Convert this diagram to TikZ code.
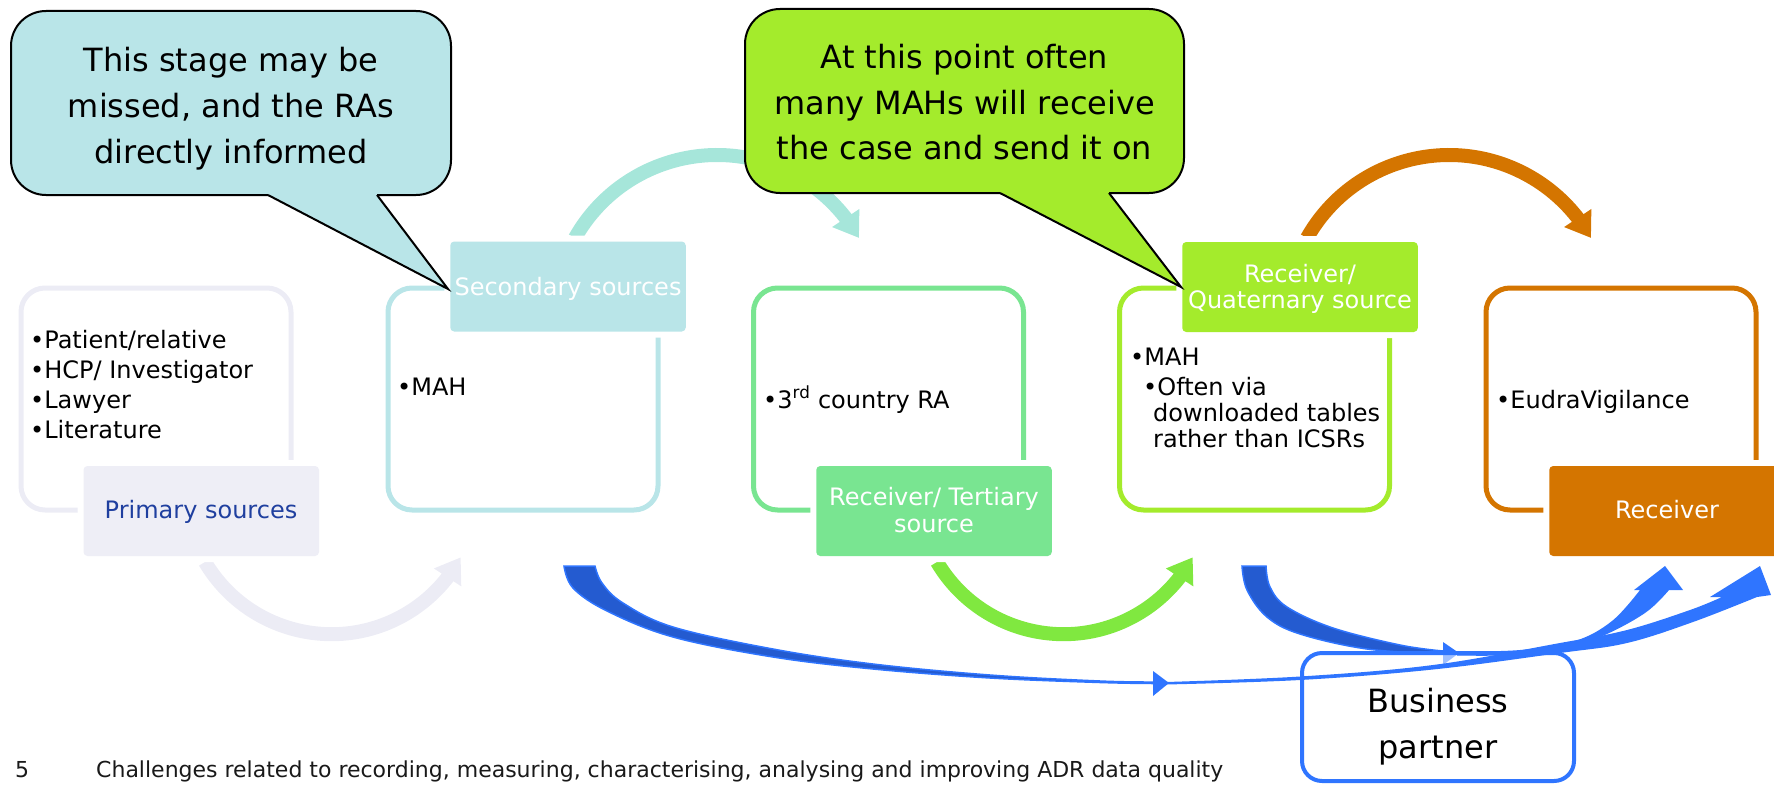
\documentclass[tikz,border=0pt]{standalone}
\usepackage{fontspec}
\setmainfont{DejaVu Sans}
\usetikzlibrary{arrows.meta,bending}
\definecolor{lavF}{HTML}{EEEEF6}
\definecolor{lavO}{HTML}{ECECF5}
\definecolor{cyanF}{HTML}{B9E5E8}
\definecolor{tealA}{HTML}{A6E6DA}
\definecolor{greenF}{HTML}{79E591}
\definecolor{greenA}{HTML}{80E840}
\definecolor{limeF}{HTML}{A4EB2C}
\definecolor{orangeF}{HTML}{D47500}
\definecolor{blueL}{HTML}{2F75FF}
\definecolor{blueD}{HTML}{245BD0}
\definecolor{ptBlue}{HTML}{1F3F9F}
\newcommand{\mylines}[2]{\begin{tabular}[t]{@{}#1@{}}#2\end{tabular}}
\begin{document}
\begin{tikzpicture}[x=1pt,y=-1pt,
  outl/.style={rectangle, line width=5pt, rounded corners=24pt, minimum width=270pt, minimum height=222pt, inner sep=0pt},
  lblbox/.style={rectangle, rounded corners=4pt, minimum width=235.5pt, minimum height=90pt, inner sep=0pt, preaction={draw=white, line width=12pt}},
  ltext/.style={anchor=base, inner sep=0pt, text=white, font=\fontsize{24}{27}\selectfont},
  btext/.style={anchor=base west, inner sep=0pt, font=\fontsize{24}{30}\selectfont},
  arcarrow/.style={line width=14pt, -{Triangle[length=24pt,width=31pt]}},
  callbox/.style={rectangle, draw=black, line width=2pt, rounded corners=35pt, inner sep=0pt},
  ctext/.style={anchor=base, inner sep=0pt, font=\fontsize{32}{46}\selectfont},
  bluefill/.style={fill=blueL},
]
\useasboundingbox (0,0) rectangle (1774,784);
\clip (0,0) rectangle (1774,784);

% outline boxes
\node[outl, draw=lavO]    (o1) at (156,399) {};
\node[outl, draw=cyanF]   (o2) at (523,399) {};
\node[outl, draw=greenF]  (o3) at (888.5,399) {};
\node[outl, draw=limeF]   (o4) at (1254.5,399) {};
\node[outl, draw=orangeF] (o5) at (1621,399) {};

% arc arrows between stages
\draw[arcarrow, lavO]    (205,562)  arc[start angle=149.4, end angle=28.5, radius=147];
\draw[arcarrow, tealA]   (575,238)  arc[start angle=-150.6, end angle=-29.4, radius=163];
\draw[arcarrow, greenA]  (937,562)  arc[start angle=149.4, end angle=28.5, radius=147];
\draw[arcarrow, orangeF] (1307,238) arc[start angle=-150.6, end angle=-29.4, radius=163];

% label boxes
\node[lblbox, fill=lavF]    (l1) at (201.25,511) {};
\node[lblbox, fill=cyanF]   (l2) at (568,286.5) {};
\node[lblbox, fill=greenF]  (l3) at (934,511) {};
\node[lblbox, fill=limeF]   (l4) at (1300,287) {};
\node[lblbox, fill=orangeF] (l5) at (1667,511) {};

\node[ltext, text=ptBlue] (t1) at (201,518) {Primary sources};
\node[ltext] (t2) at (568,295) {Secondary sources};
\node[ltext] (t3) at (934,505) {\mylines{c}{Receiver/ Tertiary\\source}};
\node[ltext, font=\fontsize{24}{26}\selectfont] (t4) at (1300,282) {\mylines{c}{Receiver/\\Quaternary source}};
\node[ltext] (t5) at (1667,518) {Receiver};

% bullet texts
\node[btext] (b1) at (30,348) {\mylines{l}{•Patient/relative\\•HCP/ Investigator\\•Lawyer\\•Literature}};
\node[btext] (b2) at (397,395) {•MAH};
\node[btext] (b3) at (763,408) {•3\textsuperscript{rd} country RA};
\node[btext, font=\fontsize{24}{26}\selectfont] (b4) at (1130,365) {\mylines{l}{•MAH\\[4pt]\hspace*{13pt}•Often via\\\hspace*{23pt}downloaded tables\\\hspace*{23pt}rather than ICSRs}};
\node[btext] (b5) at (1496,408) {•EudraVigilance};

% blue arrow from quaternary (descending part)
\filldraw[fill=blueD, draw=blueL, line width=1.5pt]
  plot[smooth, tension=0.6] coordinates {(1242,566) (1247,590) (1267,617) (1300,634) (1367,649) (1443,654)}
  -- plot[smooth, tension=0.6] coordinates {(1443,651) (1400,645) (1333,628) (1287,607) (1270,587) (1266,566)}
  -- cycle;
\fill[blueL] (1443,642) -- (1459,653) -- (1443,665) -- cycle;

% business partner box
\node[rectangle, draw=blueL, line width=4pt, rounded corners=20pt, fill=white, fill opacity=0.55, draw opacity=1, minimum width=272pt, minimum height=128pt, inner sep=0pt] (bp) at (1438,717) {};
\node[ctext] (bpt) at (1438,712) {\mylines{c}{Business\\partner}};

% blue arrow from secondary (descending part)
\filldraw[fill=blueD, draw=blueL, line width=1.5pt]
  plot[smooth, tension=0.6] coordinates {(564,566) (573,588) (607,611) (673,637) (773,657) (873,669) (990,678) (1100,682.5) (1153,683.5)}
  -- plot[smooth, tension=0.6] coordinates {(1153,682) (1100,681) (990,675) (873,664) (773,649) (673,627) (623,603) (602,583) (595,566)}
  -- cycle;
\fill[blueL] (1153,671) -- (1169,683) -- (1153,696) -- cycle;

% rising part to right receiver head
\fill[blueL]
  plot[smooth, tension=0.6] coordinates {(1166,682) (1300,676.5) (1433,665) (1560,643) (1627,630) (1690,610) (1722,597)}
  -- (1710,597) -- (1760,566) -- (1771,595)
  -- plot[smooth, tension=0.6] coordinates {(1757,597) (1693,622) (1627,643) (1560,653) (1433,669.5) (1300,680) (1166,684.5)}
  -- cycle;
% rising part to left receiver head
\fill[blueL]
  plot[smooth, tension=0.6] coordinates {(1457,651.5) (1520,650) (1575,641) (1612,621) (1640,590)}
  -- (1634,590) -- (1665,566) -- (1683,590)
  -- plot[smooth, tension=0.6] coordinates {(1669,590) (1645,613) (1600,637) (1550,652) (1500,655.5) (1457,655.5)}
  -- cycle;

% callouts
\node[callbox, fill=cyanF, minimum width=440pt, minimum height=184pt] (c1) at (231,103) {};
\coordinate (c1tip) at (448,289);
\fill[cyanF] (269,192) -- (376,192) -- (377,195) -- (c1tip) -- (268,195) -- cycle;
\draw[line width=2pt, line join=miter] (268,195) -- (c1tip) -- (377,195);
\node[ctext] (c1t) at (231,71) {\mylines{c}{This stage may be\\missed, and the RAs\\directly informed}};

\node[callbox, fill=limeF, minimum width=439pt, minimum height=184pt] (c2) at (964.5,101) {};
\coordinate (c2tip) at (1181,287);
\fill[limeF] (1001,190) -- (1108,190) -- (1109,193) -- (c2tip) -- (1000,193) -- cycle;
\draw[line width=2pt, line join=miter] (1000,193) -- (c2tip) -- (1109,193);
\node[ctext] (c2t) at (964.5,68) {\mylines{c}{At this point often\\many MAHs will receive\\the case and send it on}};

% footer
\node[anchor=base west, inner sep=0pt, font=\fontsize{22}{26}\selectfont, text=black!90] (fn) at (15,777) {5};
\node[anchor=base west, inner sep=0pt, font=\fontsize{22}{26}\selectfont, text=black!90] (ft) at (96,777) {Challenges related to recording, measuring, characterising, analysing and improving ADR data quality};
\end{tikzpicture}
\end{document}
